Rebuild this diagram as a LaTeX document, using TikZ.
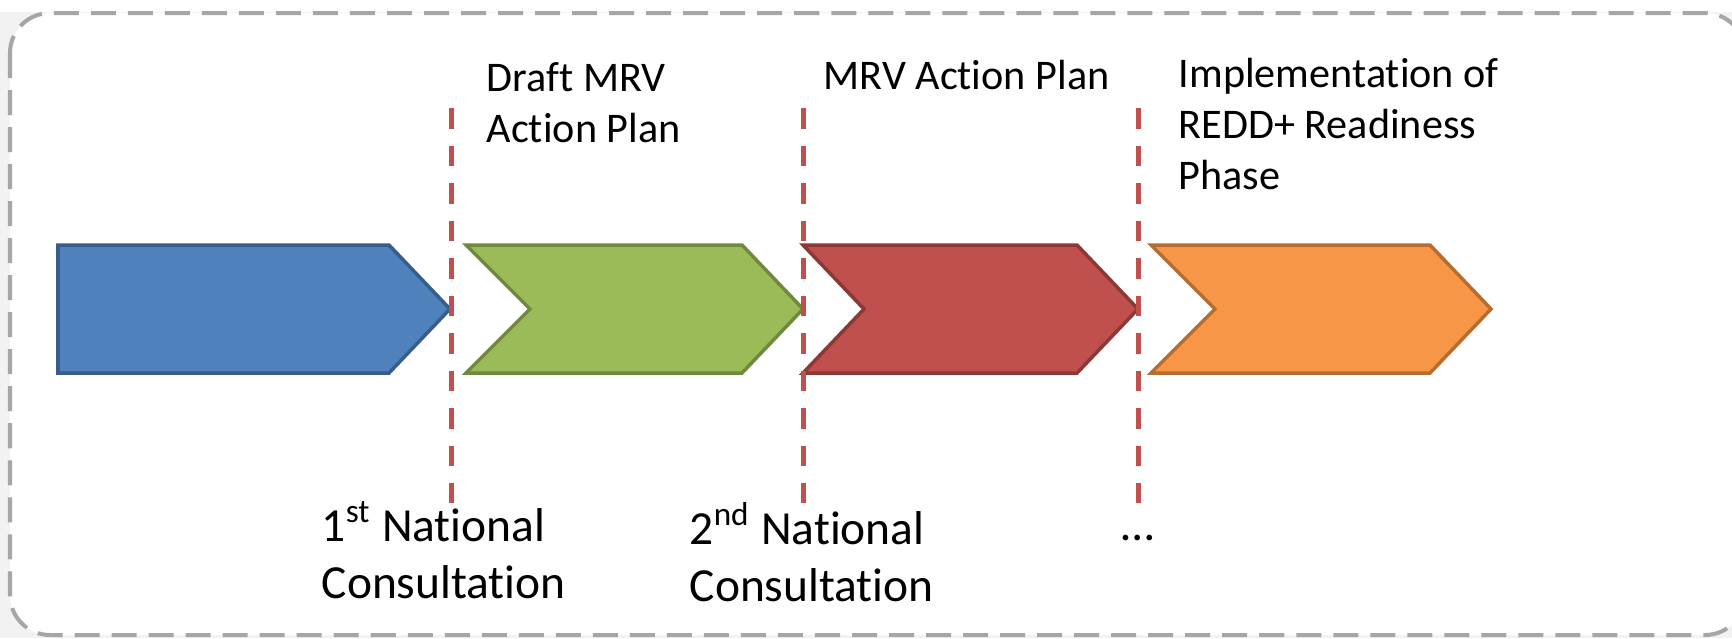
\documentclass[tikz,border=0pt]{standalone}
\usepackage{fontspec}
\setmainfont[Ligatures=NoCommon]{Carlito}
\usetikzlibrary{positioning}
\usepackage{xcolor}

\definecolor{stageblue}{HTML}{4F81BD}
\definecolor{stagebluedk}{HTML}{385D8A}
\definecolor{stagegreen}{HTML}{9BBB59}
\definecolor{stagegreendk}{HTML}{71893F}
\definecolor{stagered}{HTML}{C0504D}
\definecolor{stagereddk}{HTML}{8C3836}
\definecolor{stageorange}{HTML}{F79646}
\definecolor{stageorangedk}{HTML}{B66D31}
\definecolor{framegray}{HTML}{A6A6A6}
\definecolor{slidegray}{HTML}{F2F2F2}

\begin{document}
\begin{tikzpicture}[
x=0.01cm, y=-0.01cm,
frame/.style={draw=framegray,
line width=0.04cm,
dash pattern=on 0.25cm off 0.12cm,
fill=white,
rounded corners=0.4cm},
stage/.style={line width=0.035cm,
line join=miter},
milestone/.style={draw=stagered,
line width=0.05cm,
dash pattern=on 0.205cm off 0.17cm},
label/.style={anchor=base west,
align=left,
inner sep=0pt,
font=\fontsize{12}{14.4}\selectfont},
consult/.style={label,
font=\fontsize{13.5}{16.2}\selectfont}
]

\useasboundingbox (0,0) rectangle (1732,638);
\fill[slidegray] (0,12) rectangle (1732,638);
\draw[frame] (10,13) rectangle (1745,635);

% stages
\filldraw[stage, fill=stageblue, draw=stagebluedk] (58,245) -- (389,245) -- (450,309) -- (389,373) -- (58,373) -- cycle;
\filldraw[stage, fill=stagegreen, draw=stagegreendk] (466,245) -- (742,245) -- (803,309) -- (742,373) -- (466,373) -- (530,309) -- cycle;
\filldraw[stage, fill=stagered, draw=stagereddk] (803,245) -- (1077,245) -- (1138,309) -- (1077,373) -- (803,373) -- (864,309) -- cycle;
\filldraw[stage, fill=stageorange, draw=stageorangedk] (1151,245) -- (1430,245) -- (1491,309) -- (1430,373) -- (1151,373) -- (1215,309) -- cycle;

% milestones
\foreach \x/\n in {451/1, 803/2, 1138/3} {
\coordinate (m\n top) at (\x,108);
\coordinate (m\n bot) at (\x,503);
\draw[milestone] (m\n top) -- (m\n bot);
}

% labels (anchored at the baseline of the last line)
\node[label] (draft) at (486,142) {Draft MRV\\Action Plan};
\node[label] (mrvplan) at (823,89) {MRV Action Plan};
\node[label] (impl) at (1178,189) {Implementation of\\REDD+ Readiness\\Phase};

\node[consult] (cons1) at (321,598) {1\textsuperscript{st} National\\Consultation};
\node[consult] (cons2) at (689,601) {2\textsuperscript{nd} National\\Consultation};
\node[consult] (dots) at (1121,540) {…};

\end{tikzpicture}
\end{document}
